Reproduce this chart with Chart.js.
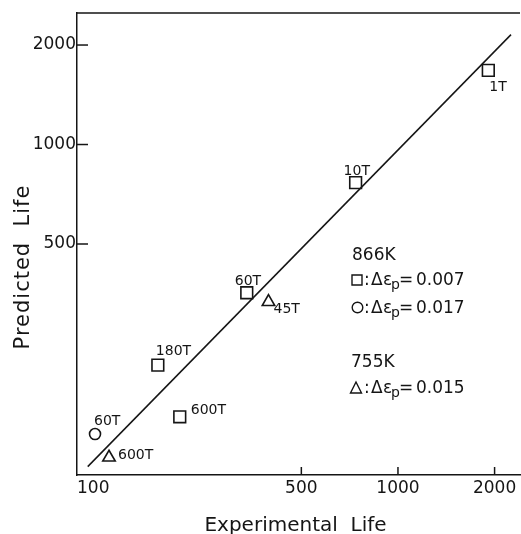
<!DOCTYPE html>
<html>
<head>
<meta charset="utf-8">
<script src="https://cdn.jsdelivr.net/npm/chart.js@4/dist/chart.umd.min.js"></script>
<style>
  html, body { margin: 0; padding: 0; background: #fff; overflow: hidden; }
  #c { display: block; }
</style>
</head>
<body>
<canvas id="c" width="521" height="534" style="width:521px;height:534px"></canvas>
<script>
// ---- data ----
const xTickValues = [100, 500, 1000, 2000];
const yTickValues = [500, 1000, 2000];

// 866K, delta eps_p = 0.007 (squares)
const sqExp  = [1912, 738, 338, 178.6, 209];
const sqPred = [1676, 767, 356, 215, 150];
const sqLabels = ['1T', '10T', '60T', '180T', '600T'];

// 866K, delta eps_p = 0.017 (circles)
const ciExp  = [113.8];
const ciPred = [133];
const ciLabels = ['60T'];

// 755K, delta eps_p = 0.015 (triangles)
const trExp  = [125.8, 395];
const trPred = [113, 334];
const trLabels = ['600T', '45T'];

// fitted line
const fitExp  = [108, 2250];
const fitPred = [106, 2150];

// ---- styling / label placement (not data) ----
const INK = '#151515';
const FONT = '"DejaVu Sans", sans-serif';
const labelOffsets = {
  0: [[1, 21], [-12, -8], [-12, -8], [-2, -10], [11, -3]],
  1: [[-1, -9]],
  2: [[9, 1.5], [5, 11]]
};

const toPts = (xs, ys) => xs.map((x, i) => ({ x: x, y: ys[i] }));

const decor = {
  id: 'decor',
  afterDraw(chart) {
    const ctx = chart.ctx;
    const a = chart.chartArea;
    const xs = chart.scales.x, ys = chart.scales.y;
    ctx.save();
    ctx.strokeStyle = INK;
    ctx.fillStyle = INK;
    ctx.lineWidth = 1.5;
    // top frame line
    ctx.beginPath();
    ctx.moveTo(a.left, a.top);
    ctx.lineTo(a.right, a.top);
    ctx.stroke();
    // inner tick marks
    yTickValues.forEach(v => {
      const p = ys.getPixelForValue(v);
      ctx.beginPath(); ctx.moveTo(a.left, p); ctx.lineTo(a.left + 11, p); ctx.stroke();
    });
    xTickValues.slice(1).forEach(v => {
      const p = xs.getPixelForValue(v);
      ctx.beginPath(); ctx.moveTo(p, a.bottom); ctx.lineTo(p, a.bottom - 8); ctx.stroke();
    });
    // point labels
    ctx.font = '14px ' + FONT;
    ctx.textAlign = 'left';
    ctx.textBaseline = 'alphabetic';
    const lbls = [sqLabels, ciLabels, trLabels];
    [0, 1, 2].forEach(di => {
      const meta = chart.getDatasetMeta(di);
      meta.data.forEach((el, i) => {
        const off = labelOffsets[di][i];
        ctx.fillText(lbls[di][i], el.x + off[0], el.y + off[1]);
      });
    });
    // legend block
    ctx.font = '17px ' + FONT;
    ctx.fillText('866K', 352, 260);
    ctx.fillText('755K', 351, 367);
    function row(shape, base, value) {
      ctx.lineWidth = 1.4;
      ctx.beginPath();
      if (shape === 'sq') ctx.rect(352, base - 10, 10, 10);
      else if (shape === 'ci') ctx.arc(357.5, base - 5.5, 5.3, 0, Math.PI * 2);
      else { ctx.moveTo(356, base - 11); ctx.lineTo(361.5, base); ctx.lineTo(350.5, base); ctx.closePath(); }
      ctx.stroke();
      ctx.font = '17px ' + FONT;
      ctx.fillText(':', 364, base);
      ctx.fillText('\u0394', 371, base);
      ctx.fillText('\u03b5', 383, base);
      ctx.font = '14px ' + FONT;
      ctx.fillText('p', 391, base + 4);
      ctx.font = '17px ' + FONT;
      ctx.fillText('=', 399, base);
      ctx.fillText(value, 416, base);
    }
    row('sq', 285, '0.007');
    row('ci', 313, '0.017');
    row('tr', 393, '0.015');
    // axis titles
    ctx.font = '20px ' + FONT;
    ctx.textAlign = 'center';
    ctx.fillText('Experimental  Life', (a.left + a.right) / 2 - 3, 531);
    ctx.save();
    ctx.translate(29, 267);
    ctx.rotate(-Math.PI / 2);
    ctx.font = '21px ' + FONT;
    if ('letterSpacing' in ctx) ctx.letterSpacing = '1px';
    ctx.fillText('Predicted  Life', 0, 0);
    ctx.restore();
    ctx.restore();
  }
};

new Chart(document.getElementById('c'), {
  type: 'scatter',
  data: {
    datasets: [
      { label: 'sq', data: toPts(sqExp, sqPred), pointStyle: 'rect', pointRadius: 8.3,
        borderColor: INK, backgroundColor: 'rgba(0,0,0,0)', borderWidth: 1.6 },
      { label: 'ci', data: toPts(ciExp, ciPred), pointStyle: 'circle', pointRadius: 5.5,
        borderColor: INK, backgroundColor: 'rgba(0,0,0,0)', borderWidth: 1.6 },
      { label: 'tr', data: toPts(trExp, trPred), pointStyle: 'triangle', pointRadius: 7.2,
        borderColor: INK, backgroundColor: 'rgba(0,0,0,0)', borderWidth: 1.6 },
      { label: 'fit', data: toPts(fitExp, fitPred), showLine: true, pointRadius: 0,
        borderColor: INK, borderWidth: 1.5, fill: false }
    ]
  },
  options: {
    responsive: false,
    maintainAspectRatio: false,
    animation: false,
    devicePixelRatio: 1,
    layout: { autoPadding: false, padding: { top: 13, right: 1, left: 0, bottom: 0 } },
    plugins: { legend: { display: false }, tooltip: { enabled: false }, title: { display: false } },
    scales: {
      x: {
        type: 'logarithmic', min: 100, max: 2400,
        afterBuildTicks: s => { s.ticks = xTickValues.concat([2400]).map(v => ({ value: v })); },
        afterFit: s => { s.height = 59; s.paddingLeft = 0; s.paddingRight = 0; },
        grid: { display: false, drawTicks: false },
        border: { display: true, color: INK, width: 1.5 },
        ticks: {
          autoSkip: false, maxRotation: 0, minRotation: 0, align: 'inner', padding: 3,
          color: INK, font: { family: FONT, size: 17 },
          callback: v => (xTickValues.includes(v) ? String(v) : '')
        }
      },
      y: {
        type: 'logarithmic', min: 100, max: 2500,
        afterBuildTicks: s => { s.ticks = yTickValues.map(v => ({ value: v })); },
        afterFit: s => { s.width = 77; s.paddingTop = 0; s.paddingBottom = 0; },
        grid: { display: false, drawTicks: false },
        border: { display: true, color: INK, width: 1.5 },
        ticks: {
          autoSkip: false, padding: 1,
          color: INK, font: { family: FONT, size: 17 },
          callback: v => String(v)
        }
      }
    }
  },
  plugins: [decor]
});
</script>
</body>
</html>
